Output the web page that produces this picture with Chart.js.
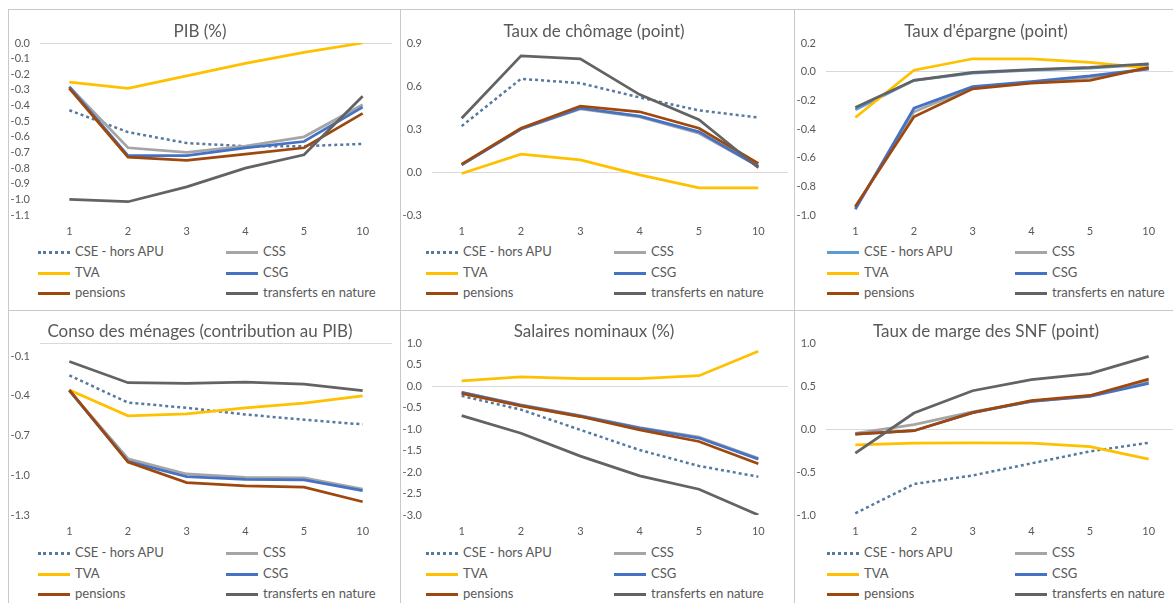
<!DOCTYPE html>
<html lang="fr">
<head>
<meta charset="utf-8">
<script src="https://cdn.jsdelivr.net/npm/chart.js@4.4.1/dist/chart.umd.min.js"></script>
<style>
body { margin:0; background:#fff; width:1173px; height:603px; overflow:hidden; position:relative; font-family: Lato, "Open Sans", sans-serif; }
.panel { position:absolute; box-shadow: inset 0 0 0 1px #c9c9c9; overflow:hidden; }
.panel canvas { position:absolute; left:0; top:0; }
.leg { position:absolute; font-size:13px; color:#595959; line-height:20px; height:20px; white-space:nowrap; }
.leg i { display:inline-block; width:32px; height:0; vertical-align:middle; margin-right:5px; }
</style>
</head>
<body>
<script>
// categories (axe x) et séries
const categories = ['1', '2', '3', '4', '5', '10'];
const seriesNames = ['CSE - hors APU', 'CSS', 'TVA', 'CSG', 'pensions', 'transferts en nature'];
const seriesColors = ['#56799e', '#a5a5a5', '#ffc000', '#4472c4', '#9e480e', '#636363'];

// valeurs, une ligne par série (même ordre que seriesNames)
const pibValues = [
	[-0.43, -0.57, -0.64, -0.66, -0.66, -0.645],
	[-0.28, -0.67, -0.70, -0.66, -0.60, -0.395],
	[-0.25, -0.29, -0.21, -0.13, -0.06, 0.0],
	[-0.28, -0.72, -0.72, -0.67, -0.63, -0.41],
	[-0.29, -0.73, -0.75, -0.71, -0.67, -0.45],
	[-1.0, -1.015, -0.92, -0.80, -0.715, -0.34]
];
const chomageValues = [
	[0.32, 0.65, 0.62, 0.52, 0.43, 0.38],
	[0.05, 0.30, 0.44, 0.385, 0.27, 0.04],
	[-0.01, 0.125, 0.085, -0.02, -0.11, -0.11],
	[0.05, 0.30, 0.445, 0.39, 0.28, 0.04],
	[0.055, 0.305, 0.46, 0.42, 0.305, 0.06],
	[0.375, 0.81, 0.79, 0.54, 0.365, 0.03]
];
const epargneValues = [
	[-0.265, -0.06, -0.01, 0.01, 0.025, 0.05],
	[-0.95, -0.28, -0.11, -0.075, -0.04, 0.02],
	[-0.32, 0.01, 0.09, 0.09, 0.065, 0.025],
	[-0.96, -0.255, -0.105, -0.07, -0.03, 0.02],
	[-0.94, -0.315, -0.12, -0.08, -0.06, 0.03],
	[-0.25, -0.06, -0.005, 0.015, 0.03, 0.055]
];
const consoValues = [
	[-0.245, -0.45, -0.49, -0.54, -0.58, -0.615],
	[-0.36, -0.875, -0.99, -1.015, -1.02, -1.105],
	[-0.355, -0.55, -0.535, -0.49, -0.455, -0.40],
	[-0.36, -0.895, -1.01, -1.03, -1.035, -1.115],
	[-0.355, -0.90, -1.055, -1.08, -1.09, -1.20],
	[-0.14, -0.30, -0.305, -0.295, -0.31, -0.36]
];
const salairesValues = [
	[-0.23, -0.55, -1.02, -1.49, -1.86, -2.11],
	[-0.15, -0.44, -0.69, -0.97, -1.19, -1.68],
	[0.12, 0.21, 0.17, 0.17, 0.24, 0.81],
	[-0.15, -0.45, -0.70, -0.98, -1.21, -1.70],
	[-0.17, -0.46, -0.71, -1.02, -1.29, -1.81],
	[-0.69, -1.10, -1.63, -2.09, -2.40, -3.0]
];
const margeValues = [
	[-0.98, -0.64, -0.54, -0.40, -0.26, -0.16],
	[-0.05, 0.05, 0.20, 0.32, 0.385, 0.55],
	[-0.185, -0.165, -0.16, -0.165, -0.205, -0.35],
	[-0.06, -0.02, 0.19, 0.32, 0.38, 0.53],
	[-0.06, -0.02, 0.19, 0.33, 0.39, 0.58],
	[-0.28, 0.185, 0.445, 0.575, 0.645, 0.845]
];

// graduations de l'axe y
const pibTicks = [0, -0.1, -0.2, -0.3, -0.4, -0.5, -0.6, -0.7, -0.8, -0.9, -1.0, -1.1];
const chomageTicks = [-0.3, 0, 0.3, 0.6, 0.9];
const epargneTicks = [-1.0, -0.8, -0.6, -0.4, -0.2, 0, 0.2];
const consoTicks = [-1.3, -1.0, -0.7, -0.4, -0.1];
const salairesTicks = [-3.0, -2.5, -2.0, -1.5, -1.0, -0.5, 0, 0.5, 1.0];
const margeTicks = [-1.0, -0.5, 0, 0.5, 1.0];

const panels = [
	{ title: 'PIB (%)', values: pibValues, ticks: pibTicks, min: -1.1, max: 0, col: 0, row: 0 },
	{ title: 'Taux de chômage (point)', values: chomageValues, ticks: chomageTicks, min: -0.3, max: 0.9, col: 1, row: 0 },
	{ title: "Taux d'épargne (point)", values: epargneValues, ticks: epargneTicks, min: -1.0, max: 0.2, col: 2, row: 0, solidCSE: true },
	{ title: 'Conso des ménages (contribution au PIB)', values: consoValues, ticks: consoTicks, min: -1.3, max: 0, col: 0, row: 1 },
	{ title: 'Salaires nominaux (%)', values: salairesValues, ticks: salairesTicks, min: -3.0, max: 1.0, col: 1, row: 1 },
	{ title: 'Taux de marge des SNF (point)', values: margeValues, ticks: margeTicks, min: -1.0, max: 1.0, col: 2, row: 1 }
];

// mise en page (px)
const colLeft = [8, 400, 794], colWidth = [393, 395, 400], padRight = [8, 6, 8], legLeft = [30, 26, 33];
const rowTop = [9, 310], rowHeight = [302, 300], titleTop = [12, 11], areaTop = [34, 33];

panels.forEach(p => {
	let div = document.createElement('div');
	div.className = 'panel';
	div.style.left = colLeft[p.col] + 'px';
	div.style.top = rowTop[p.row] + 'px';
	div.style.width = colWidth[p.col] + 'px';
	div.style.height = rowHeight[p.row] + 'px';
	document.body.appendChild(div);

	let canvas = document.createElement('canvas');
	let cw = p.col == 1 ? 394 : 392, ch = areaTop[p.row] + 172 + 26;
	canvas.width = cw; canvas.height = ch;
	canvas.style.width = cw + 'px'; canvas.style.height = ch + 'px';
	div.appendChild(canvas);

	let datasets = p.values.map((vals, i) => {
		let dotted = i == 0 && !p.solidCSE;
		return {
			label: seriesNames[i],
			data: vals,
			borderColor: i == 0 && p.solidCSE ? '#5b9bd5' : seriesColors[i],
			borderWidth: dotted ? 2.5 : 2.75,
			borderDash: dotted ? [3, 3] : [],
			pointRadius: 0,
			tension: 0,
			order: 5 - i //la dernière série est dessinée au dessus (comme Excel)
		};
	});

	let chart = new Chart(canvas, {
		type: 'line',
		data: { labels: categories, datasets: datasets },
		options: {
			responsive: false,
			animation: false,
			devicePixelRatio: 1,
			layout: { padding: { left: 0, top: 0, bottom: 0, right: padRight[p.col] } },
			plugins: {
				legend: { display: false },
				tooltip: { enabled: false },
				title: {
					display: true,
					text: p.title,
					color: '#595959',
					font: { family: 'Lato', size: 17, weight: 'normal', lineHeight: 1.2 },
					padding: { top: titleTop[p.row], bottom: areaTop[p.row] - titleTop[p.row] - 20.4 }
				}
			},
			scales: {
				x: {
					offset: true,
					grid: { display: false, drawTicks: false },
					border: { display: false },
					ticks: { color: '#595959', font: { family: 'Lato', size: 11 }, padding: 10, maxRotation: 0, autoSkip: false },
					afterFit: s => { s.height = 26; }
				},
				y: {
					min: p.min,
					max: p.max,
					border: { display: false },
					grid: {
						drawTicks: false,
						color: c => c.tick && Math.abs(c.tick.value) < 1e-9 ? '#d9d9d9' : 'rgba(0,0,0,0)',
						lineWidth: 1
					},
					afterBuildTicks: s => {
						let t = p.ticks.map(v => ({ value: v }));
						if (!p.ticks.includes(0)) t.push({ value: 0 }); //ligne du zéro
						s.ticks = t;
					},
					ticks: {
						color: '#595959',
						font: { family: 'Lato', size: 11 },
						padding: 10,
						autoSkip: false,
						callback: v => p.ticks.some(t => Math.abs(t - v) < 1e-9) ? (Math.abs(v) < 1e-9 ? '0.0' : v.toFixed(1)) : ''
					},
					afterFit: s => { s.width = 32; }
				}
			}
		}
	});

	// légende en 2 colonnes comme dans Excel
	chart.data.datasets.forEach((ds, i) => {
		let item = document.createElement('div');
		item.className = 'leg';
		item.style.left = (legLeft[p.col] + (i % 2) * 188) + 'px';
		item.style.top = (232 + Math.floor(i / 2) * 20.5) + 'px';
		let sw = document.createElement('i');
		sw.style.borderTop = (ds.borderDash.length ? '3px dotted ' : '3px solid ') + ds.borderColor;
		item.appendChild(sw);
		item.appendChild(document.createTextNode(ds.label));
		div.appendChild(item);
	});
});
</script>
</body>
</html>
